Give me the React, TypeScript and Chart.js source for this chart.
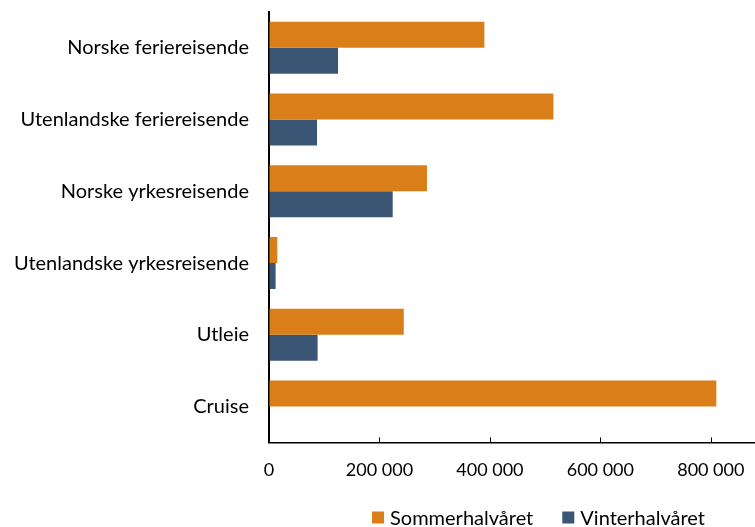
import React, { useEffect, useRef } from "react";
import { Chart, registerables } from "chart.js";

Chart.register(...registerables);

const categories = [
  "Norske feriereisende",
  "Utenlandske feriereisende",
  "Norske yrkesreisende",
  "Utenlandske yrkesreisende",
  "Utleie",
  "Cruise",
];
const seriesNames = ["Sommerhalvåret", "Vinterhalvåret"];
const summerValues = [390000, 515000, 286000, 15000, 244000, 810000];
const winterValues = [125000, 87000, 224000, 12000, 88000, 0];
const xTicks = [0, 200000, 400000, 600000, 800000];

const ORANGE = "#D97E18";
const BLUE = "#3A5674";
const FONT = "Lato, 'Open Sans', sans-serif";

function fmt(v: number): string {
  return String(v).replace(/\B(?=(\d{3})+(?!\d))/g, " ");
}

const innerTicksPlugin = {
  id: "innerTicks",
  afterDatasetsDraw(chart: any) {
    const ctx = chart.ctx;
    const xs = chart.scales.x;
    const yBottom = chart.chartArea.bottom;
    ctx.save();
    ctx.strokeStyle = "#000";
    ctx.lineWidth = 1;
    for (const t of xs.ticks) {
      if (t.value === 0) continue;
      const px = Math.round(xs.getPixelForValue(t.value)) + 0.5;
      ctx.beginPath();
      ctx.moveTo(px, yBottom);
      ctx.lineTo(px, yBottom - 5);
      ctx.stroke();
    }
    ctx.restore();
  },
};

const legendPlugin = {
  id: "customLegend",
  afterDraw(chart: any) {
    const ctx = chart.ctx;
    ctx.save();
    ctx.font = `20px ${FONT}`;
    ctx.textBaseline = "middle";
    const box = 12;
    const gapBoxText = 6;
    const gapItems = 29;
    const items = chart.data.datasets.map((d: any) => ({
      label: d.label,
      color: d.backgroundColor,
      w: box + gapBoxText + ctx.measureText(d.label).width,
    }));
    const total =
      items.reduce((s: number, it: any) => s + it.w, 0) + gapItems * (items.length - 1);
    let x = 705 - total;
    const cy = 517.5;
    for (const it of items) {
      ctx.fillStyle = it.color;
      ctx.fillRect(x, cy - box / 2, box, box);
      ctx.fillStyle = "#000";
      ctx.textAlign = "left";
      ctx.fillText(it.label, x + box + gapBoxText, cy + 1);
      x += it.w + gapItems;
    }
    ctx.restore();
  },
};

export default function App() {
  const ref = useRef<HTMLCanvasElement | null>(null);
  useEffect(() => {
    document.body.style.margin = "0";
    const chart = new Chart(ref.current as HTMLCanvasElement, {
      type: "bar",
      data: {
        labels: categories,
        datasets: [
          {
            label: seriesNames[0],
            data: summerValues,
            backgroundColor: ORANGE,
            categoryPercentage: 0.725,
            barPercentage: 1.0,
          },
          {
            label: seriesNames[1],
            data: winterValues,
            backgroundColor: BLUE,
            categoryPercentage: 0.725,
            barPercentage: 1.0,
          },
        ],
      },
      options: {
        indexAxis: "y",
        animation: false,
        responsive: true,
        maintainAspectRatio: false,
        layout: { padding: { top: 0, right: 0, bottom: 46, left: 0 } },
        plugins: {
          legend: { display: false },
          tooltip: { enabled: false },
        },
        scales: {
          x: {
            min: 0,
            max: 880000,
            afterBuildTicks: (scale: any) => {
              scale.ticks = xTicks.map((v) => ({ value: v }));
            },
            ticks: {
              callback: (v: any) => fmt(Number(v)),
              color: "#000",
              font: { family: FONT, size: 18 },
              padding: 0,
              maxRotation: 0,
            },
            grid: {
              display: true,
              drawOnChartArea: false,
              drawTicks: true,
              tickLength: 17,
              color: "rgba(0,0,0,0)",
            },
            border: { display: true, color: "#000", width: 1.5 },
          },
          y: {
            afterFit: (scale: any) => {
              scale.width = 269;
            },
            ticks: {
              color: "#000",
              font: { family: FONT, size: 20 },
              padding: 0,
            },
            grid: {
              display: true,
              drawOnChartArea: false,
              drawTicks: true,
              tickLength: 20,
              color: "rgba(0,0,0,0)",
            },
            border: { display: true, color: "#000", width: 2 },
          },
        },
      },
      plugins: [innerTicksPlugin, legendPlugin],
    });
    return () => chart.destroy();
  }, []);
  return (
    <div style={{ position: "fixed", left: 0, top: 0, width: 755, height: 527 }}>
      <canvas ref={ref} />
    </div>
  );
}
